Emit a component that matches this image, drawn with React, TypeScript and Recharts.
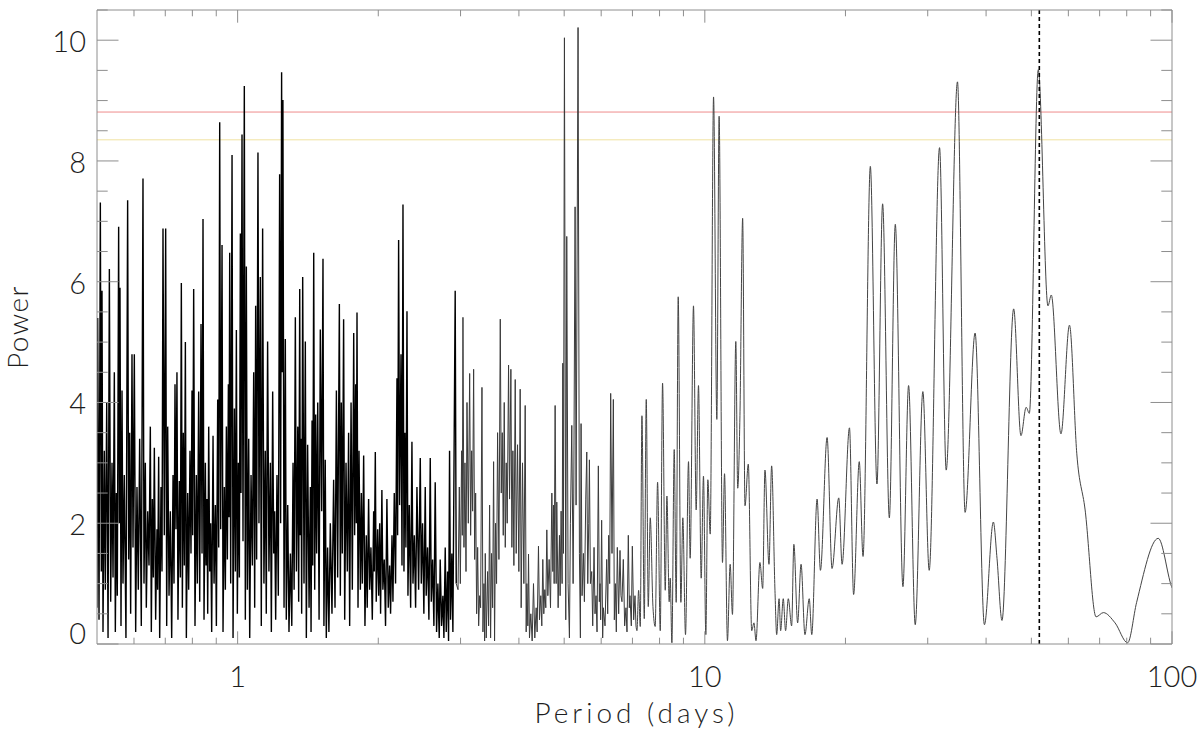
import React from 'react';
import { LineChart, Line, XAxis, YAxis, ReferenceLine } from 'recharts';

// periodogram, short periods (dense spikes) : [period (days), power]
const densePart1: [number, number][] = [
  [0.5, 0.6], [0.5017, 5.4], [0.505, 0.4], [0.5083, 7.31], [0.5108, 1.2], [0.5125, 5.85], [0.515, 0.2], [0.5184, 3.2],
  [0.521, 0.9], [0.5245, 4.0], [0.528, 0.1], [0.5314, 6.21], [0.5349, 0.7], [0.5384, 3.0], [0.5411, 1.1], [0.5446, 4.5],
  [0.5473, 0.2], [0.55, 2.5], [0.5526, 0.8], [0.5563, 6.91], [0.5582, 2.0], [0.56, 5.9], [0.5628, 0.3], [0.5656, 4.2],
  [0.5683, 1.0], [0.572, 2.8], [0.5767, 0.1], [0.5815, 7.35], [0.5844, 1.4], [0.5873, 3.5], [0.5902, 0.5], [0.5941, 4.8],
  [0.5971, 1.6], [0.601, 4.8], [0.605, 0.2], [0.6089, 2.6], [0.6129, 0.9], [0.617, 3.4], [0.622, 0.3], [0.6272, 7.71],
  [0.6303, 1.0], [0.6345, 3.0], [0.6376, 0.6], [0.6419, 2.2], [0.6461, 1.3], [0.6503, 3.6], [0.6535, 0.2], [0.6568, 2.4],
  [0.66, 1.1], [0.6633, 3.25], [0.6676, 0.4], [0.672, 1.9], [0.6742, 0.9], [0.6776, 3.1], [0.681, 0.1], [0.6854, 2.6],
  [0.6888, 1.2], [0.6922, 6.88], [0.6967, 1.8], [0.7014, 6.88], [0.7049, 0.3], [0.7084, 3.6], [0.7131, 0.8], [0.7178, 2.2],
  [0.7225, 0.1], [0.7273, 2.8], [0.7308, 1.0], [0.7344, 4.3], [0.7379, 1.9], [0.7415, 4.5], [0.7452, 0.4], [0.7502, 2.7],
  [0.754, 1.1], [0.7577, 5.98], [0.7615, 0.6], [0.7652, 3.5], [0.769, 1.3], [0.7729, 5.0], [0.7767, 0.1], [0.7818, 2.5],
  [0.7856, 0.9], [0.7907, 3.2], [0.7946, 1.5], [0.7986, 4.2], [0.8013, 1.8], [0.8052, 5.88], [0.8105, 0.3], [0.8158, 2.8],
  [0.8199, 1.0], [0.8253, 4.18], [0.8295, 0.7], [0.8349, 5.3], [0.8391, 1.5], [0.8431, 7.04], [0.8473, 0.4], [0.853, 3.0],
  [0.8558, 1.3], [0.86, 2.4], [0.8628, 0.5], [0.8671, 3.6], [0.8713, 1.2], [0.8756, 2.0], [0.8799, 0.2], [0.8858, 3.45],
  [0.8902, 1.0], [0.8961, 2.3], [0.9005, 0.3], [0.9064, 4.05], [0.9109, 1.6], [0.9154, 8.64], [0.9199, 1.9], [0.926, 6.61],
  [0.9305, 0.2], [0.9366, 2.6], [0.9413, 0.9], [0.946, 3.6], [0.9507, 1.4], [0.9554, 4.3], [0.9585, 2.1], [0.9616, 6.48],
  [0.9663, 1.0], [0.9728, 8.1], [0.9776, 0.1], [0.9841, 3.9], [0.989, 1.2], [0.9938, 5.2], [0.9986, 0.5], [1.0036, 3.0],
  [1.0086, 1.1], [1.0135, 6.8], [1.0168, 2.5], [1.0218, 8.44], [1.0268, 1.7], [1.0335, 9.24], [1.0387, 0.4], [1.0439, 6.25],
  [1.0491, 0.9], [1.0561, 3.4], [1.0613, 0.1], [1.0683, 2.8], [1.0753, 1.3], [1.0823, 4.5], [1.0876, 0.6], [1.0929, 5.6],
  [1.0982, 1.4], [1.1054, 8.14], [1.1109, 2.0], [1.1182, 6.08], [1.1237, 0.3], [1.1311, 6.88], [1.1384, 1.0], [1.1459, 3.2],
  [1.1516, 0.5], [1.1592, 5.01], [1.1668, 1.2], [1.175, 3.0], [1.1808, 0.2], [1.1885, 4.18], [1.1944, 1.5], [1.2003, 2.2],
  [1.2062, 0.4], [1.214, 2.8],
];

const densePart2: [number, number][] = [
  [1.222, 0.8], [1.23, 7.78], [1.236, 2.0], [1.242, 9.47], [1.246, 4.5], [1.25, 9.01], [1.257, 0.6], [1.265, 5.05],
  [1.271, 0.4], [1.28, 2.3], [1.288, 0.2], [1.297, 1.5], [1.306, 0.3], [1.314, 3.0], [1.321, 0.9], [1.329, 5.41],
  [1.336, 1.2], [1.345, 3.6], [1.351, 0.7], [1.358, 5.88], [1.362, 1.8], [1.367, 3.4], [1.371, 0.5], [1.378, 6.08],
  [1.387, 1.0], [1.396, 5.01], [1.403, 0.1], [1.412, 3.3], [1.422, 0.6], [1.431, 2.6], [1.436, 0.2], [1.443, 3.7],
  [1.448, 1.3], [1.455, 6.48], [1.462, 0.9], [1.469, 3.8], [1.476, 1.5], [1.484, 4.0], [1.494, 0.4], [1.503, 5.21],
  [1.513, 2.2], [1.523, 6.38], [1.53, 0.3], [1.54, 3.05], [1.548, 0.1], [1.558, 1.6], [1.568, 0.2], [1.579, 2.0],
  [1.592, 0.5], [1.605, 2.72], [1.616, 0.6], [1.627, 4.2], [1.637, 1.1], [1.651, 5.63], [1.659, 0.8], [1.667, 4.0],
  [1.675, 1.5], [1.686, 5.38], [1.695, 0.4], [1.706, 3.0], [1.717, 1.2], [1.728, 3.5], [1.737, 0.3], [1.749, 4.0],
  [1.76, 0.9], [1.772, 5.15], [1.78, 1.8], [1.789, 4.3], [1.795, 2.0], [1.801, 5.49], [1.81, 0.6], [1.819, 3.2],
  [1.831, 0.9], [1.84, 2.5], [1.849, 1.0], [1.861, 3.12], [1.873, 0.3], [1.885, 1.8], [1.894, 0.6], [1.907, 2.4],
  [1.917, 0.9], [1.929, 1.6], [1.942, 0.4], [1.955, 2.2], [1.961, 1.2], [1.971, 3.18], [1.98, 0.7], [1.994, 1.9],
  [2.004, 0.8], [2.014, 2.0], [2.023, 0.5], [2.036, 2.55], [2.046, 0.9], [2.06, 1.4], [2.073, 0.3], [2.087, 2.4],
  [2.101, 0.6], [2.115, 1.3], [2.125, 0.5], [2.14, 1.8], [2.15, 0.7], [2.164, 2.5], [2.178, 1.0], [2.193, 4.4],
  [2.2, 1.8], [2.211, 6.69], [2.222, 2.3], [2.237, 4.8], [2.248, 1.3], [2.259, 7.28], [2.27, 1.2], [2.281, 3.5],
  [2.292, 1.6], [2.304, 5.51], [2.315, 0.8], [2.33, 2.3], [2.346, 0.6], [2.361, 3.35], [2.373, 1.0], [2.389, 1.8],
  [2.404, 0.6], [2.42, 2.6], [2.44, 0.9], [2.46, 3.08], [2.472, 1.0], [2.488, 2.0], [2.504, 0.5], [2.521, 2.6],
  [2.533, 0.8], [2.55, 1.6], [2.567, 0.4], [2.584, 3.08], [2.597, 0.7], [2.614, 1.4], [2.631, 0.3], [2.648, 2.68],
  [2.666, 0.2], [2.683, 1.0], [2.701, 0.1], [2.714, 1.4], [2.732, 0.3], [2.75, 0.8], [2.764, 0.1], [2.782, 1.6],
  [2.796, 0.2], [2.814, 1.2], [2.828, 0.05], [2.842, 3.2], [2.856, 0.4], [2.874, 1.5], [2.889, 0.2], [2.908, 3.5],
  [2.922, 5.85], [2.937, 1.0],
];

const densePart3: [number, number][] = [
  [2.937, 1.0], [2.963, 0.9], [2.982, 2.6], [2.997, 1.0], [3.016, 3.2], [3.026, 1.8], [3.036, 5.41], [3.051, 1.6], [3.066, 3.0],
  [3.082, 1.2], [3.097, 4.0], [3.117, 2.0], [3.138, 4.48], [3.153, 1.8], [3.169, 3.2], [3.184, 2.2], [3.2, 4.55],
  [3.216, 1.4], [3.232, 2.5], [3.248, 0.5], [3.264, 1.6], [3.28, 0.3], [3.296, 0.8], [3.312, 0.6], [3.334, 4.25],
  [3.35, 0.2], [3.367, 1.0], [3.378, 0.05], [3.389, 1.5], [3.405, 0.1], [3.428, 1.2], [3.445, 0.3], [3.462, 2.3],
  [3.479, 0.1], [3.496, 1.5], [3.514, 0.6], [3.531, 3.02], [3.548, 0.05], [3.565, 2.0], [3.583, 1.0], [3.601, 3.5],
  [3.625, 1.4], [3.649, 5.38], [3.667, 2.5], [3.685, 3.5], [3.703, 1.8], [3.721, 4.0], [3.74, 1.6], [3.758, 3.0],
  [3.776, 2.0], [3.801, 4.62], [3.82, 2.4], [3.845, 4.55], [3.864, 1.6], [3.883, 3.2], [3.902, 1.3], [3.928, 4.38],
  [3.947, 1.5], [3.973, 3.3], [3.999, 1.2], [4.025, 4.22], [4.045, 0.6], [4.072, 3.0], [4.099, 1.0], [4.126, 3.95],
  [4.146, 0.2], [4.16, 1.0], [4.18, 0.3], [4.194, 1.49], [4.214, 0.1], [4.242, 0.5], [4.27, 0.05], [4.298, 1.0],
  [4.326, 0.1], [4.355, 0.6], [4.376, 0.2], [4.405, 1.62], [4.427, 0.4], [4.456, 0.8], [4.478, 0.3], [4.5, 1.4],
  [4.522, 0.5], [4.545, 0.9], [4.567, 0.6], [4.59, 1.89], [4.613, 0.8], [4.643, 1.4], [4.674, 0.6], [4.705, 2.5],
  [4.728, 1.2], [4.743, 2.3], [4.759, 1.0], [4.782, 3.95], [4.806, 1.0], [4.821, 2.35], [4.853, 0.6], [4.885, 1.8],
  [4.901, 0.8], [4.925, 2.2], [4.949, 1.0], [4.966, 4.65], [4.982, 1.5], [5.006, 10.04], [5.039, 0.4], [5.064, 6.75],
  [5.097, 1.0], [5.131, 0.1], [5.156, 2.0], [5.191, 3.62], [5.225, 1.0], [5.242, 2.5], [5.276, 7.24], [5.302, 2.3],
  [5.354, 10.21], [5.39, 1.5], [5.416, 0.1], [5.434, 3.65], [5.461, 0.8], [5.497, 1.5], [5.524, 0.7], [5.561, 2.4],
  [5.589, 3.18], [5.616, 1.0], [5.643, 2.0], [5.662, 3.05], [5.69, 1.0], [5.727, 1.2], [5.755, 0.3], [5.793, 1.6],
  [5.821, 0.5], [5.85, 0.8], [5.879, 0.2], [5.917, 2.95], [5.946, 0.7], [5.966, 1.0], [5.985, 0.4], [6.014, 2.05],
  [6.044, 0.1], [6.065, 0.6], [6.115, 0.3], [6.165, 1.4], [6.196, 0.5], [6.226, 1.8], [6.257, 1.0], [6.288, 4.15],
  [6.329, 1.5], [6.371, 4.05], [6.402, 0.4], [6.434, 1.0], [6.465, 0.2], [6.497, 1.6], [6.54, 0.5], [6.583, 1.55],
  [6.615, 0.8], [6.648, 0.7], [6.692, 1.4], [6.736, 0.3], [6.78, 0.6], [6.814, 0.2], [6.859, 1.8], [6.893, 0.6],
  [6.915, 0.8], [6.961, 0.3], [6.996, 1.62], [7.042, 0.4], [7.088, 0.8], [7.123, 0.3],
];

// longer periods, smooth oscillations
const smoothPart: [number, number][] = [
  [7.123, 0.3], [7.157, 0.22], [7.216, 0.89], [7.275, 0.29], [7.335, 3.78], [7.42, 0.42], [7.493, 4.05], [7.567, 0.62],
  [7.642, 2.09], [7.744, 0.62], [7.83, 0.29], [7.923, 2.68], [8.028, 0.22], [8.12, 4.32], [8.228, 0.89], [8.296, 2.45],
  [8.39, 0.7], [8.432, 1.09], [8.502, 0.02], [8.6, 3.22], [8.684, 0.69], [8.771, 5.75], [8.887, 0.69], [8.973, 2.09],
  [9.092, 0.155], [9.228, 3.02], [9.303, 1.42], [9.457, 5.6], [9.583, 2.22], [9.693, 4.28], [9.823, 1.09], [9.934, 2.78],
  [10.05, 0.155], [10.15, 2.72], [10.27, 1.82], [10.44, 9.06], [10.61, 3.72], [10.73, 8.74], [10.91, 1.35], [11.02, 2.82],
  [11.18, 0.055], [11.33, 1.32], [11.46, 0.49], [11.65, 5.01], [11.76, 2.58], [11.89, 3.78], [12.05, 7.05], [12.19, 2.29],
  [12.39, 2.98], [12.6, 0.22], [12.74, 0.35], [12.87, 0.055], [13.12, 1.35], [13.3, 0.92], [13.45, 2.88], [13.72, 1.32],
  [13.9, 2.95], [14.13, 0.89], [14.25, 0.155], [14.42, 0.75], [14.53, 0.22], [14.72, 0.75], [14.89, 0.22], [15.09, 0.75],
  [15.34, 0.3], [15.51, 1.65], [15.8, 0.35], [16.07, 1.32], [16.38, 0.155], [16.73, 0.75], [16.94, 0.155], [17.39, 2.4],
  [17.68, 1.22], [18.27, 3.42], [18.72, 1.25], [19.35, 2.42], [19.67, 1.32], [20.4, 3.58], [20.82, 0.82], [21.41, 3.02],
  [21.81, 1.45], [22.61, 7.91], [23.36, 2.65], [24.02, 7.29], [24.83, 2.09], [25.57, 6.95], [26.55, 0.95], [27.3, 4.28],
  [28.21, 0.32], [29.29, 4.18], [30.22, 1.22], [31.8, 8.22], [32.86, 2.88], [34.74, 9.31], [36.07, 2.18], [37.89, 5.15],
  [39.67, 0.32], [41.46, 2.02], [42.21, 1.42], [43.26, 0.39], [45.82, 5.55], [47.5, 3.45], [48.73, 3.92], [49.5, 3.82],
  [51.73, 9.51], [54.26, 5.6], [55.16, 5.78], [57.85, 3.48], [60.33, 5.28], [62.55, 3.15], [65.17, 2.22], [68.79, 0.45],
  [71.31, 0.52], [75.52, 0.35], [80.35, 0.02], [84.0, 0.69], [93.44, 1.75], [99.78, 0.95], [100, 0.93],
];

// significance levels and marked period
const redLevel = 8.81;
const yellowLevel = 8.35;
const markedPeriod = 52;

const xMajorTicks = [1, 10, 100];
const xMinorTicks = [0.6, 0.7, 0.8, 0.9, 2, 3, 4, 5, 6, 7, 8, 9, 20, 30, 40, 50, 60, 70, 80, 90];
const yMajorTicks = [0, 2, 4, 6, 8, 10];
const yMinorTicks = [0.5, 1, 1.5, 2.5, 3, 3.5, 4.5, 5, 5.5, 6.5, 7, 7.5, 8.5, 9, 9.5, 10.5];

const toRows = (arr: [number, number][]) => arr.map(([p, v]) => ({ p, v }));
const denseRowsA = toRows([...densePart1, ...densePart2]);
const denseRowsB = toRows(densePart3);
const smoothRows = toRows(smoothPart);

const AXIS = '#8e8e8e';
const TEXT = '#1e1e1e';
const FONT = "Lato, 'Open Sans', 'DejaVu Sans', sans-serif";
const allX = [...xMajorTicks, ...xMinorTicks].sort((a, b) => a - b);
const allY = [...yMajorTicks, ...yMinorTicks].sort((a, b) => a - b);

const BottomTick = (props: any) => {
  const { x, y, payload } = props;
  const major = xMajorTicks.includes(payload.value);
  return (
    <g>
      <line x1={x} x2={x} y1={y} y2={y - (major ? 12.7 : 6.3)} stroke={AXIS} strokeWidth={1} />
      {major && (
        <text x={x} y={y + 43} textAnchor="middle" fill={TEXT} fontSize={29} fontFamily={FONT} fontWeight={300}>
          {payload.value}
        </text>
      )}
    </g>
  );
};

const TopTick = (props: any) => {
  const { x, y, payload } = props;
  const major = xMajorTicks.includes(payload.value);
  return <line x1={x} x2={x} y1={y} y2={y + (major ? 12.7 : 6.3)} stroke={AXIS} strokeWidth={1} />;
};

const LeftTick = (props: any) => {
  const { x, y, payload } = props;
  const major = yMajorTicks.includes(payload.value);
  return (
    <g>
      <line x1={x} x2={x + (major ? 21.5 : 10.7)} y1={y} y2={y} stroke={AXIS} strokeWidth={1} />
      {major && (
        <text x={x - 11} y={payload.value === 0 ? y : y + 12} textAnchor="end" fill={TEXT} fontSize={29} fontFamily={FONT} fontWeight={300}>
          {payload.value}
        </text>
      )}
    </g>
  );
};

const RightTick = (props: any) => {
  const { x, y, payload } = props;
  const major = yMajorTicks.includes(payload.value);
  return <line x1={x} x2={x - (major ? 21.5 : 10.7)} y1={y} y2={y} stroke={AXIS} strokeWidth={1} />;
};

const XTitle = (props: any) => {
  const vb = props.viewBox || { x: 97, y: 644, width: 1075, height: 91 };
  return (
    <text x={vb.x + vb.width / 2 + 2} y={vb.y + 79} textAnchor="middle" fill={TEXT} fontSize={28} letterSpacing={4} fontFamily={FONT} fontWeight={300}>
      Period (days)
    </text>
  );
};

const YTitle = (props: any) => {
  const vb = props.viewBox || { x: 0, y: 10, width: 97, height: 634 };
  const cx = vb.x + 28;
  const cy = vb.y + vb.height / 2;
  return (
    <text x={cx} y={cy} transform={`rotate(-90 ${cx} ${cy})`} textAnchor="middle" fill={TEXT} fontSize={28} letterSpacing={1.5} fontFamily={FONT} fontWeight={300}>
      Power
    </text>
  );
};

export default function App() {
  return (
    <div style={{ position: 'absolute', left: 0, top: 0, width: 1200, height: 735, background: '#fff' }}>
      <LineChart width={1200} height={735} margin={{ top: 9, right: 27, bottom: 0, left: 0 }}>
        <XAxis
          dataKey="p"
          type="number"
          scale="log"
          domain={[0.5, 100]}
          allowDataOverflow
          ticks={allX}
          interval={0}
          tickSize={0}
          tickMargin={0}
          tickLine={false}
          tick={(p: any) => <BottomTick {...p} />}
          axisLine={{ stroke: AXIS }}
          height={91}
          label={(p: any) => <XTitle {...p} />}
        />
        <XAxis
          xAxisId="top"
          orientation="top"
          dataKey="p"
          type="number"
          scale="log"
          domain={[0.5, 100]}
          allowDataOverflow
          ticks={allX}
          interval={0}
          tickSize={0}
          tickMargin={0}
          tickLine={false}
          tick={(p: any) => <TopTick {...p} />}
          axisLine={{ stroke: AXIS }}
          height={1}
        />
        <YAxis
          type="number"
          domain={[0, 10.5]}
          allowDataOverflow
          ticks={allY}
          interval={0}
          tickSize={0}
          tickMargin={0}
          tickLine={false}
          tick={(p: any) => <LeftTick {...p} />}
          axisLine={{ stroke: AXIS }}
          width={97}
          label={(p: any) => <YTitle {...p} />}
        />
        <YAxis
          yAxisId="right"
          orientation="right"
          type="number"
          domain={[0, 10.5]}
          allowDataOverflow
          ticks={allY}
          interval={0}
          tickSize={0}
          tickMargin={0}
          tickLine={false}
          tick={(p: any) => <RightTick {...p} />}
          axisLine={{ stroke: AXIS }}
          width={1}
        />
        <ReferenceLine y={redLevel} stroke="#ee8c8c" strokeWidth={1} />
        <ReferenceLine y={yellowLevel} stroke="#f0e2a0" strokeWidth={1} />
        <Line
          data={denseRowsA}
          dataKey="v"
          type="linear"
          stroke="#000"
          strokeWidth={1.4}
          dot={false}
          isAnimationActive={false}
        />
        <Line
          data={denseRowsB}
          dataKey="v"
          type="linear"
          stroke="#3a3a3a"
          strokeWidth={1}
          dot={false}
          isAnimationActive={false}
        />
        <Line
          data={smoothRows}
          dataKey="v"
          type="monotone"
          stroke="#444"
          strokeWidth={1}
          dot={false}
          isAnimationActive={false}
        />
        <ReferenceLine x={markedPeriod} stroke="#000" strokeWidth={1.6} strokeDasharray="4 3" />
      </LineChart>
    </div>
  );
}
